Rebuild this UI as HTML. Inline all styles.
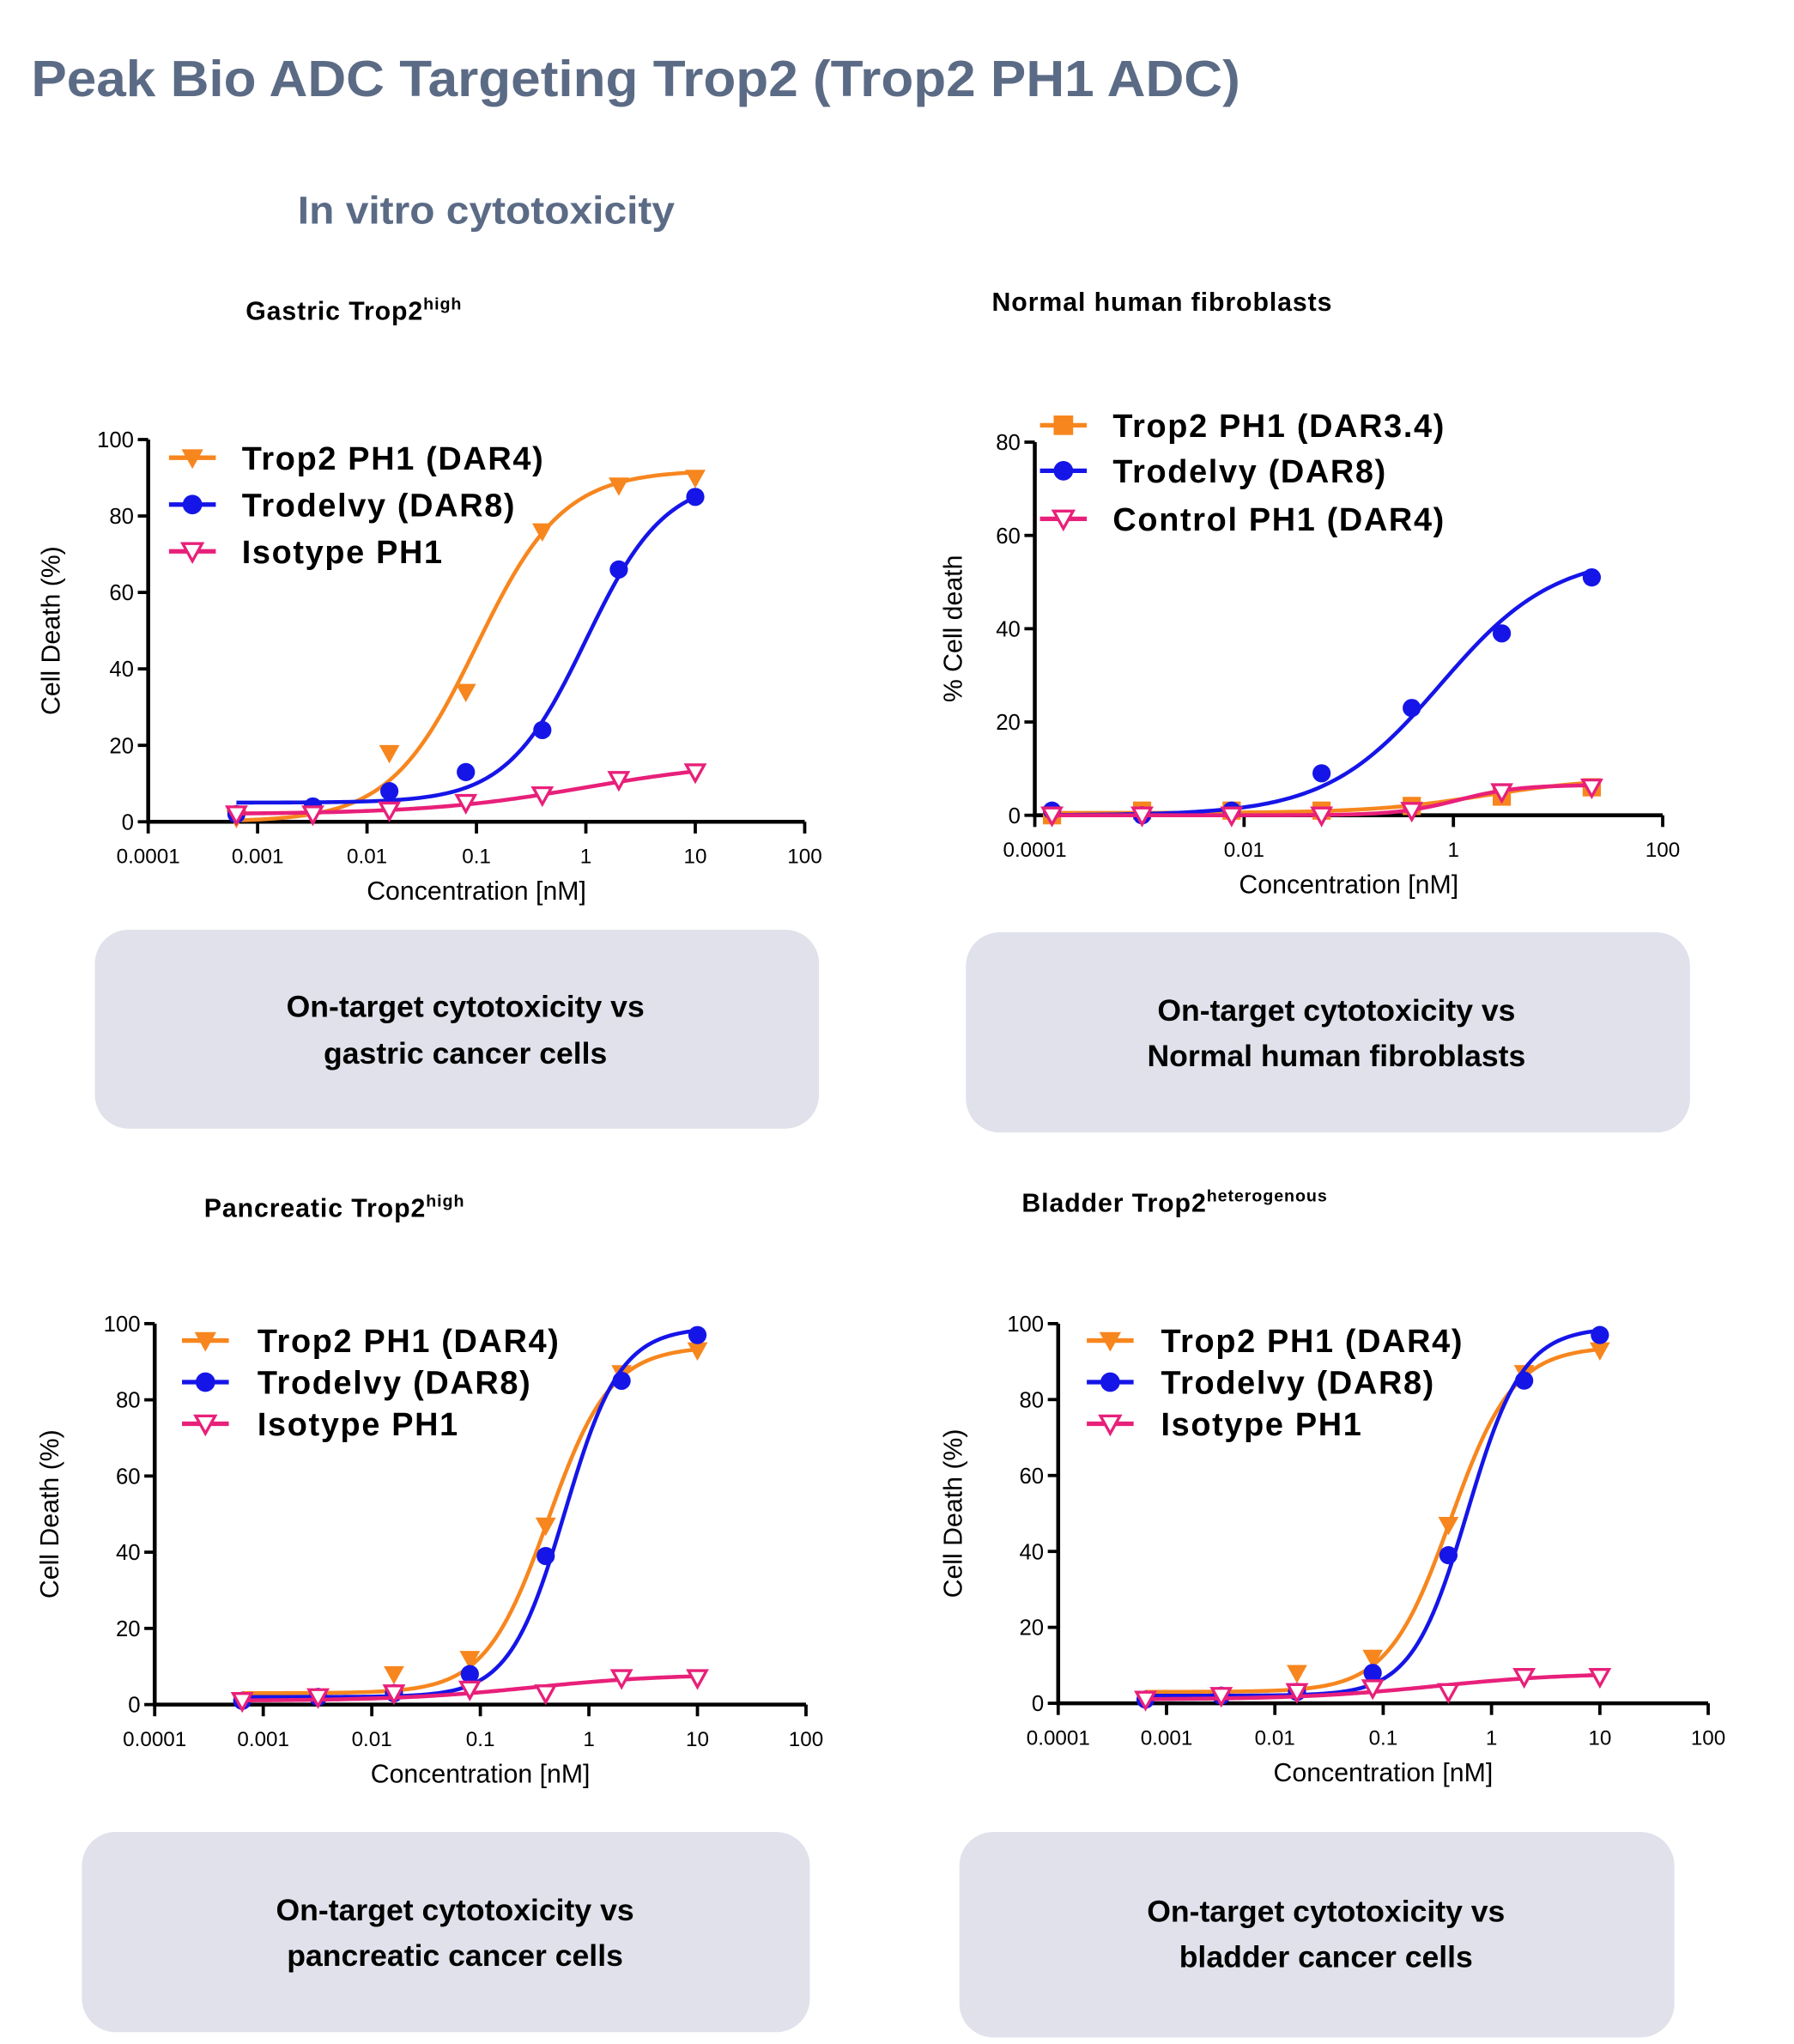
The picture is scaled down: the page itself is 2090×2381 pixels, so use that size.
<!DOCTYPE html>
<html><head><meta charset="utf-8">
<style>
html,body{margin:0;padding:0;background:#fff;}
svg{display:block;}
text{font-family:"Liberation Sans",Arial,sans-serif;}
</style></head>
<body>
<svg id="root" width="2090" height="2381" viewBox="0 0 1380 1572" xmlns="http://www.w3.org/2000/svg">
  <text x="24" y="74" font-size="39" font-weight="bold" fill="#5b6b85" textLength="930" lengthAdjust="spacingAndGlyphs">Peak Bio ADC Targeting Trop2 (Trop2 PH1 ADC)</text>
  <text x="229" y="172" font-size="30" font-weight="bold" fill="#5b6b85" textLength="290" lengthAdjust="spacingAndGlyphs">In vitro cytotoxicity</text>

  <text x="189" y="246" font-size="20" font-weight="bold" fill="#000" letter-spacing="0.6">Gastric Trop2<tspan font-size="13" dy="-8">high</tspan></text>
  <text x="763" y="239" font-size="20" font-weight="bold" fill="#000" letter-spacing="0.6">Normal human fibroblasts</text>
  <text x="157" y="936" font-size="20" font-weight="bold" fill="#000" letter-spacing="0.6">Pancreatic Trop2<tspan font-size="13" dy="-8">high</tspan></text>
  <text x="786" y="932" font-size="20" font-weight="bold" fill="#000" letter-spacing="0.6">Bladder Trop2<tspan font-size="13" dy="-8">heterogenous</tspan></text>

  <g font-size="23.5" font-weight="bold" text-anchor="middle">
    <rect x="73" y="715" width="557" height="153" rx="26" fill="#e0e1ea"/>
    <text x="358" y="782">On-target cytotoxicity vs</text>
    <text x="358" y="818">gastric cancer cells</text>
  </g>
  <g font-size="23.5" font-weight="bold" text-anchor="middle">
    <rect x="743" y="717" width="557" height="154" rx="26" fill="#e0e1ea"/>
    <text x="1028" y="785">On-target cytotoxicity vs</text>
    <text x="1028" y="820">Normal human fibroblasts</text>
  </g>
  <g font-size="23.5" font-weight="bold" text-anchor="middle">
    <rect x="63" y="1409" width="560" height="154" rx="26" fill="#e0e1ea"/>
    <text x="350" y="1477">On-target cytotoxicity vs</text>
    <text x="350" y="1512">pancreatic cancer cells</text>
  </g>
  <g font-size="23.5" font-weight="bold" text-anchor="middle">
    <rect x="738" y="1409" width="550" height="158" rx="26" fill="#e0e1ea"/>
    <text x="1020" y="1478">On-target cytotoxicity vs</text>
    <text x="1020" y="1513">bladder cancer cells</text>
  </g>
</svg>
<script>
// ---- data ----
const gastricConc = [0.00064, 0.0032, 0.016, 0.08, 0.4, 2, 10];
const gastricTrop2 = [1, 3, 18, 34, 76, 88, 90];
const gastricTrodelvy = [2, 4, 8, 13, 24, 66, 85];
const gastricIsotype = [2, 2, 3, 5, 7, 11, 13];
const gastricTrop2Fit = [0, 92, 0.1, 1.1];
const gastricTrodelvyFit = [5, 90, 1.0, 1.2];
const gastricIsotypeFit = [2, 16, 1.0, 0.6];

const fibroConc = [0.000146, 0.00106, 0.0076, 0.055, 0.40, 2.9, 21];
const fibroTrop2 = [0, 1, 1, 1, 2, 4, 6];
const fibroTrodelvy = [1, 0, 1, 9, 23, 39, 51];
const fibroControl = [0, 0, 0, 0, 1, 5, 6];
const fibroTrop2Fit = [0.5, 8, 2, 0.8];
const fibroTrodelvyFit = [0, 56, 0.75, 0.8];
const fibroControlFit = [0, 6.5, 1.1, 1.5];

const pancConc = [0.00064, 0.0032, 0.016, 0.08, 0.4, 2, 10];
const pancTrop2 = [1, 2, 8, 12, 47, 87, 93];
const pancTrodelvy = [1, 2, 3, 8, 39, 85, 97];
const pancIsotype = [1, 2, 3, 4, 3, 7, 7];
const pancTrop2Fit = [3, 94, 0.42, 1.5];
const pancTrodelvyFit = [2, 99, 0.6, 1.7];
const pancIsotypeFit = [1, 8, 0.3, 0.7];

const bladConc = [0.00064, 0.0032, 0.016, 0.08, 0.4, 2, 10];
const bladTrop2 = [1, 2, 8, 12, 47, 87, 93];
const bladTrodelvy = [1, 2, 3, 8, 39, 85, 97];
const bladIsotype = [1, 2, 3, 4, 3, 7, 7];
const bladTrop2Fit = [3, 94, 0.42, 1.5];
const bladTrodelvyFit = [2, 99, 0.6, 1.7];
const bladIsotypeFit = [1, 8, 0.3, 0.7];

const xTicks6 = ["0.0001","0.001","0.01","0.1","1","10","100"];
const xTicks3 = ["0.0001","0.01","1","100"];
const yTicks100 = [0, 20, 40, 60, 80, 100];
const yTicks80 = [0, 20, 40, 60, 80];

const ORANGE = "#f7861e", BLUE = "#1515e8", PINK = "#e8207a";
const NS = "http://www.w3.org/2000/svg";
const root = document.getElementById('root');
function mk(tag, attrs, parent){const e=document.createElementNS(NS,tag);for(const k in attrs)e.setAttribute(k,attrs[k]);(parent||root).appendChild(e);return e;}

function marker(g, kind, color, cx, cy, r){
  let e;
  if(kind==='tri'||kind==='otri'){
    e = mk('polygon',{points:`${cx-r},${cy-r*0.8} ${cx+r},${cy-r*0.8} ${cx},${cy+r}`,
      fill: kind==='tri'?color:'#fff', stroke: color, 'stroke-width': kind==='tri'?1:2.2},g);
  } else if(kind==='circ'){
    e = mk('circle',{cx:cx,cy:cy,r:r,fill:color},g);
  } else {
    e = mk('rect',{x:cx-r,y:cy-r,width:2*r,height:2*r,fill:color},g);
  }
  return e;
}

function chart(cfg){
  const g = mk('g',{});
  
  
  const lx0=Math.log10(0.0001), lx1=Math.log10(100);
  const X = v => cfg.x0 + (Math.log10(v)-lx0)/(lx1-lx0)*(cfg.x1-cfg.x0);
  const Y = v => cfg.y0 - v/cfg.ymax*(cfg.y0-cfg.y1);
  const ax = mk('path',{d:`M${cfg.x0},${cfg.y1} V${cfg.y0} H${cfg.x1}`,fill:'none',stroke:'#000','stroke-width':3},g);
  
  
  cfg.yTicks.forEach(t=>{
    mk('line',{x1:cfg.x0-8,x2:cfg.x0,y1:Y(t),y2:Y(t),stroke:'#000','stroke-width':2.5},g);
    const tl = mk('text',{x:cfg.x0-11,y:Y(t)+6,'font-size':17,'text-anchor':'end'},g);
    tl.textContent=t;
    
    
  });
  cfg.xTicks.forEach(t=>{
    const px=X(parseFloat(t));
    mk('line',{x1:px,x2:px,y1:cfg.y0,y2:cfg.y0+9,stroke:'#000','stroke-width':2.5},g);
    const tl = mk('text',{x:px,y:cfg.y0+32,'font-size':16,'text-anchor':'middle'},g);
    tl.textContent=t;
    
    
  });
  const xt = mk('text',{x:(cfg.x0+cfg.x1)/2,y:cfg.y0+60,'font-size':20,'text-anchor':'middle'},g);
  xt.textContent='Concentration [nM]';
  
  
  const ym=(cfg.y0+cfg.y1)/2;
  const yt = mk('text',{x:cfg.ytx,y:ym,'font-size':20,'text-anchor':'middle',transform:`rotate(-90 ${cfg.ytx} ${ym})`},g);
  yt.textContent=cfg.ytitle;
  
  
  cfg.series.forEach((s,i)=>{
    const sg = mk('g',{},g);
    
    
    const [b,t,ec,h]=s.fit;
    const a=Math.log10(cfg.conc[0]), z=Math.log10(cfg.conc[cfg.conc.length-1]);
    let d='';
    for(let k=0;k<=120;k++){
      const c=Math.pow(10,a+(z-a)*k/120);
      const v=b+(t-b)/(1+Math.pow(ec/c,h));
      d+=(k?'L':'M')+X(c).toFixed(2)+','+Y(v).toFixed(2);
    }
    const cl = mk('path',{d:d,fill:'none',stroke:s.color,'stroke-width':3},sg);
    
    
    s.vals.forEach((v,j)=>{
      const m = marker(sg,s.kind,s.color,X(cfg.conc[j]),Y(v),7);
      
      
    });
    const ly=cfg.legY[i];
    const le = mk('g',{},g);
    
    
    mk('line',{x1:cfg.legX,x2:cfg.legX+36,y1:ly,y2:ly,stroke:s.color,'stroke-width':3.5},le);
    marker(le,s.kind,s.color,cfg.legX+18,ly,7.5);
    const lt = mk('text',{x:cfg.legTX,y:ly+9,'font-size':25,'font-weight':'bold','letter-spacing':1.1},le);
    lt.textContent=s.label;
  });
}

chart({name:'gastric-chart',x0:114,x1:619,y0:632,y1:338,ymax:100,yTicks:yTicks100,xTicks:xTicks6,ytx:46,ytitle:'Cell Death (%)',
  conc:gastricConc,legX:130,legTX:186,legY:[352,388,424],
  series:[
    {id:'trop2-ph1',label:'Trop2 PH1 (DAR4)',color:ORANGE,kind:'tri',vals:gastricTrop2,fit:gastricTrop2Fit},
    {id:'trodelvy',label:'Trodelvy (DAR8)',color:BLUE,kind:'circ',vals:gastricTrodelvy,fit:gastricTrodelvyFit},
    {id:'isotype-ph1',label:'Isotype PH1',color:PINK,kind:'otri',vals:gastricIsotype,fit:gastricIsotypeFit}]});

chart({name:'fibroblast-chart',x0:796,x1:1279,y0:627,y1:340,ymax:80,yTicks:yTicks80,xTicks:xTicks3,ytx:740,ytitle:'% Cell death',
  conc:fibroConc,legX:800,legTX:856,legY:[327,362,399],
  series:[
    {id:'trop2-ph1',label:'Trop2 PH1 (DAR3.4)',color:ORANGE,kind:'sq',vals:fibroTrop2,fit:fibroTrop2Fit},
    {id:'trodelvy',label:'Trodelvy (DAR8)',color:BLUE,kind:'circ',vals:fibroTrodelvy,fit:fibroTrodelvyFit},
    {id:'control-ph1',label:'Control PH1 (DAR4)',color:PINK,kind:'otri',vals:fibroControl,fit:fibroControlFit}]});

chart({name:'pancreatic-chart',x0:119,x1:620,y0:1311,y1:1018,ymax:100,yTicks:yTicks100,xTicks:xTicks6,ytx:45,ytitle:'Cell Death (%)',
  conc:pancConc,legX:140,legTX:198,legY:[1031,1063,1095],
  series:[
    {id:'trop2-ph1',label:'Trop2 PH1 (DAR4)',color:ORANGE,kind:'tri',vals:pancTrop2,fit:pancTrop2Fit},
    {id:'trodelvy',label:'Trodelvy (DAR8)',color:BLUE,kind:'circ',vals:pancTrodelvy,fit:pancTrodelvyFit},
    {id:'isotype-ph1',label:'Isotype PH1',color:PINK,kind:'otri',vals:pancIsotype,fit:pancIsotypeFit}]});

chart({name:'bladder-chart',x0:814,x1:1314,y0:1310,y1:1018,ymax:100,yTicks:yTicks100,xTicks:xTicks6,ytx:740,ytitle:'Cell Death (%)',
  conc:bladConc,legX:836,legTX:893,legY:[1031,1063,1095],
  series:[
    {id:'trop2-ph1',label:'Trop2 PH1 (DAR4)',color:ORANGE,kind:'tri',vals:bladTrop2,fit:bladTrop2Fit},
    {id:'trodelvy',label:'Trodelvy (DAR8)',color:BLUE,kind:'circ',vals:bladTrodelvy,fit:bladTrodelvyFit},
    {id:'isotype-ph1',label:'Isotype PH1',color:PINK,kind:'otri',vals:bladIsotype,fit:bladIsotypeFit}]});
</script>
</body></html>
